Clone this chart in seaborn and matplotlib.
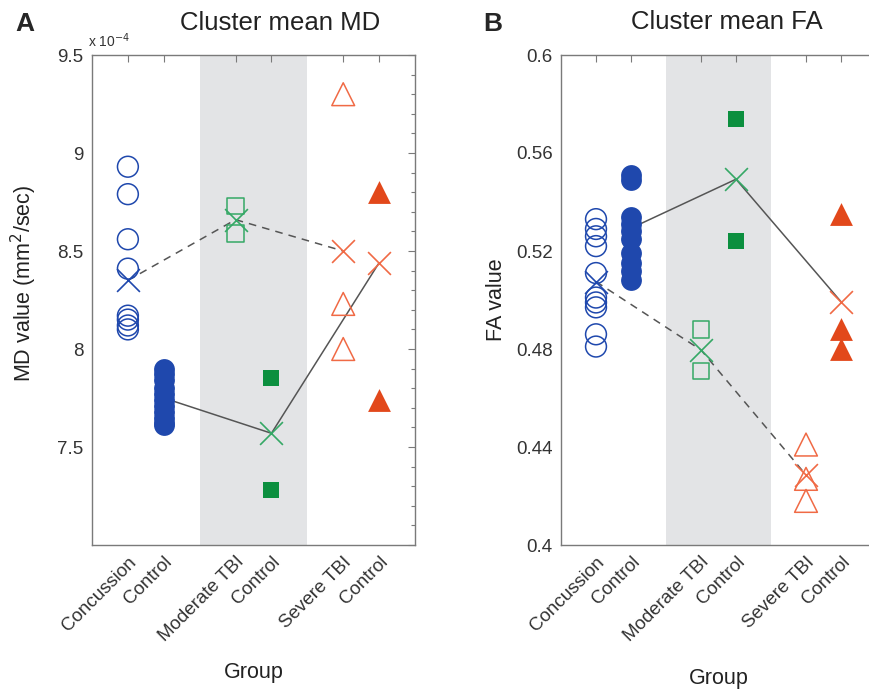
import matplotlib
matplotlib.use("Agg")
import matplotlib.pyplot as plt
import seaborn as sns
from matplotlib.ticker import MultipleLocator

# ---------------------------------------------------------
# data
# ---------------------------------------------------------
positions = [1, 2, 4, 5, 7, 8]
group_labels = ["Concussion", "Control", "Moderate TBI", "Control", "Severe TBI", "Control"]
patient_pos = [1, 4, 7]
control_pos = [2, 5, 8]

# A: cluster mean MD, in units of 1e-4 mm^2/sec
md_concussion = [8.93, 8.79, 8.56, 8.41, 8.17, 8.15, 8.12, 8.10]
md_conc_control = [7.90, 7.87, 7.84, 7.80, 7.77, 7.74, 7.71, 7.68, 7.65, 7.62, 7.61]
md_moderate = [8.73, 8.59]
md_mod_control = [7.85, 7.28]
md_severe = [9.30, 8.23, 8.00]
md_sev_control = [8.80, 7.74]
md_patient_mean = [8.35, 8.66, 8.50]
md_control_mean = [7.75, 7.57, 8.44]

# B: cluster mean FA
fa_concussion = [0.533, 0.529, 0.526, 0.522, 0.511, 0.501, 0.499, 0.497, 0.486, 0.481]
fa_conc_control = [0.551, 0.549, 0.534, 0.531, 0.528, 0.525, 0.519, 0.515, 0.512, 0.508]
fa_moderate = [0.488, 0.471]
fa_mod_control = [0.574, 0.524]
fa_severe = [0.441, 0.427, 0.418]
fa_sev_control = [0.535, 0.488, 0.480]
fa_patient_mean = [0.5075, 0.4796, 0.4286]
fa_control_mean = [0.5293, 0.5493, 0.4993]

blue = "#1f48ad"
green_open, green = "#35a866", "#0c8f3f"
red_open, red = "#f06a45", "#e2481b"
line_col = "#555555"
shade = "#e3e4e6"

sns.set_style("white")
plt.rcParams["font.family"] = ["Liberation Sans", "DejaVu Sans"]
plt.rcParams["axes.edgecolor"] = "#7a7a7a"
plt.rcParams["xtick.color"] = "#7a7a7a"
plt.rcParams["ytick.color"] = "#7a7a7a"
plt.rcParams["xtick.labelcolor"] = "#333333"
plt.rcParams["ytick.labelcolor"] = "#333333"

fig = plt.figure(figsize=(8.69, 6.91), dpi=100)
W, H = 869, 691


def make_axes(left, right, top=55, bottom=545):
    return fig.add_axes([left / W, 1 - bottom / H, (right - left) / W, (bottom - top) / H])


def draw_groups(ax, vals, pmean, cmean):
    conc, conc_c, mod, mod_c, sev, sev_c = vals
    ax.axvspan(3, 6, color=shade, lw=0, zorder=0)
    sns.scatterplot(x=[1] * len(conc), y=conc, marker="o", s=225, color=blue,
                    facecolor="none", edgecolor=blue, linewidth=1.1, ax=ax, zorder=3)
    sns.scatterplot(x=[2] * len(conc_c), y=conc_c, marker="o", s=225, color=blue,
                    edgecolor=blue, linewidth=0, ax=ax, zorder=3)
    sns.scatterplot(x=[4] * len(mod), y=mod, marker="s", s=140, color=green_open,
                    facecolor="none", edgecolor=green_open, linewidth=1.1, ax=ax, zorder=3)
    sns.scatterplot(x=[5] * len(mod_c), y=mod_c, marker="s", s=140, color=green,
                    edgecolor=green, linewidth=0, ax=ax, zorder=3)
    sns.scatterplot(x=[7] * len(sev), y=sev, marker="^", s=270, color=red_open,
                    facecolor="none", edgecolor=red_open, linewidth=1.1, ax=ax, zorder=3)
    sns.scatterplot(x=[8] * len(sev_c), y=sev_c, marker="^", s=270, color=red,
                    edgecolor=red, linewidth=0, ax=ax, zorder=3)
    # group means: dashed = patients, solid = controls
    sns.lineplot(x=patient_pos, y=pmean, sort=False, color=line_col, lw=1.1,
                 linestyle=(0, (5, 4)), ax=ax, zorder=2)
    sns.lineplot(x=control_pos, y=cmean, sort=False, color=line_col, lw=1.1, ax=ax, zorder=2)
    mean_cols = [blue, green_open, red_open]
    for i in range(3):
        sns.scatterplot(x=[patient_pos[i]], y=[pmean[i]], marker="x", s=270,
                        color=mean_cols[i], linewidth=1.2, ax=ax, zorder=5)
    # the concussion-control mean is hidden by the filled circles, no cross there
    for i in range(1, 3):
        sns.scatterplot(x=[control_pos[i]], y=[cmean[i]], marker="x", s=270,
                        color=mean_cols[i], linewidth=1.2, ax=ax, zorder=5)

    ax.set_xlim(0, 9)
    ax.set_xticks(positions)
    ax.set_xticklabels(group_labels, rotation=45, ha="right", rotation_mode="anchor",
                       fontsize=13.5)
    ax.tick_params(axis="both", which="both", direction="in", top=True, right=True,
                   width=0.8)
    ax.tick_params(axis="both", which="major", length=5, pad=6)
    ax.tick_params(axis="y", which="minor", length=3)
    ax.tick_params(axis="y", labelsize=13.5)
    for sp in ax.spines.values():
        sp.set_linewidth(1.0)


# ---------------------------------------------------------
# A: MD
# ---------------------------------------------------------
axA = make_axes(92, 415)
draw_groups(axA, [md_concussion, md_conc_control, md_moderate, md_mod_control,
                  md_severe, md_sev_control], md_patient_mean, md_control_mean)
axA.set_ylim(7, 9.5)
axA.set_yticks([7, 7.5, 8, 8.5, 9, 9.5])
axA.set_yticklabels(["", "7.5", "8", "8.5", "9", "9.5"])
axA.yaxis.set_minor_locator(MultipleLocator(0.1))
axA.set_ylabel("MD value (mm$^2$/sec)", fontsize=15.5, color="#222222")
axA.yaxis.set_label_coords(-0.165, 0.535)
axA.set_xlabel("Group", fontsize=15.5, color="#222222")
axA.xaxis.set_label_coords(0.5, -0.26)
axA.xaxis.label.set_va("center")

# ---------------------------------------------------------
# B: FA
# ---------------------------------------------------------
axB = make_axes(561, 876)
draw_groups(axB, [fa_concussion, fa_conc_control, fa_moderate, fa_mod_control,
                  fa_severe, fa_sev_control], fa_patient_mean, fa_control_mean)
axB.set_ylim(0.4, 0.6)
axB.set_yticks([0.4, 0.44, 0.48, 0.52, 0.56, 0.6])
axB.set_yticklabels(["0.4", "0.44", "0.48", "0.52", "0.56", "0.6"])
axB.yaxis.set_minor_locator(MultipleLocator(0.01))
axB.set_ylabel("FA value", fontsize=15.5, color="#222222")
axB.yaxis.set_label_coords(-0.17, 0.5)
axB.set_xlabel("Group", fontsize=15.5, color="#222222")
axB.xaxis.set_label_coords(0.5, -0.272)
axB.xaxis.label.set_va("center")

# panel letters, titles, exponent
fig.text(25 / W, 1 - 24 / H, "A", fontsize=19, fontweight="bold", ha="center", va="center")
fig.text(493 / W, 1 - 24 / H, "B", fontsize=19, fontweight="bold", ha="center", va="center")
fig.text(280 / W, 1 - 23 / H, "Cluster mean MD", fontsize=18.5, color="#222222",
         ha="center", va="center")
fig.text(727 / W, 1 - 22 / H, "Cluster mean FA", fontsize=18.5, color="#222222",
         ha="center", va="center")
fig.text(88 / W, 1 - 47 / H, "x 10$^{-4}$", fontsize=10, color="#333333",
         ha="left", va="baseline")

fig.savefig("out.png", dpi=100)
